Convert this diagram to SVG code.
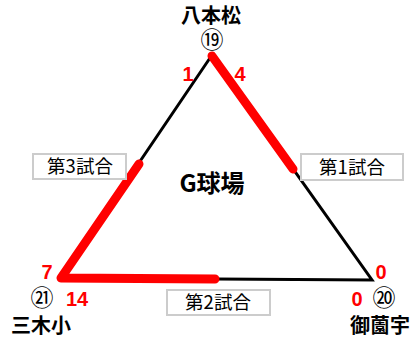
<svg xmlns="http://www.w3.org/2000/svg" width="414" height="340" viewBox="0 0 414 340">
<style>
.jp{font-family:"Noto Sans CJK JP","Liberation Sans",sans-serif}
.name{font-size:20px;font-weight:bold;fill:#000;text-anchor:middle}
.circ{font-size:23px;fill:#000;text-anchor:middle}
.score{font-family:"Liberation Sans",sans-serif;font-size:20px;font-weight:bold;fill:#ff0000;text-anchor:middle}
.box{fill:#fff;stroke:#cccccc;stroke-width:2}
.game{font-size:18.5px;fill:#000;text-anchor:middle}
.edge{stroke:#000;stroke-width:3;fill:none;stroke-linecap:round}
.win{stroke:#ff0000;stroke-width:9;fill:none;stroke-linecap:round;stroke-linejoin:round}
</style>
<rect width="414" height="340" fill="#fff"/>
<g id="connectors">
<path class="edge" d="M212,55 L61,278 L372,280 Z"/>
<path class="win" d="M212,56 L293,169"/>
<path class="win" d="M139,164 L61,278 L215,279"/>
</g>
<g id="hachihonmatsu">
<text class="jp name" x="211" y="23">八本松</text>
<text class="jp circ" x="212" y="48">⑲</text>
<text class="score" x="188" y="81">1</text>
<text class="score" x="240" y="81">4</text>
</g>
<g id="mikishou">
<text class="jp name" x="41" y="333">三木小</text>
<text class="jp circ" x="42" y="306">㉑</text>
<text class="score" x="47" y="279">7</text>
<text class="score" x="77" y="306">14</text>
</g>
<g id="misonou">
<text class="jp name" x="380" y="333">御薗宇</text>
<text class="jp circ" x="384" y="306">⑳</text>
<text class="score" x="381" y="279">0</text>
<text class="score" x="357" y="306">0</text>
</g>
<g id="game1">
<rect class="box" x="301" y="154" width="102" height="26"/>
<text class="jp game" x="352" y="174">第1試合</text>
</g>
<g id="game2">
<rect class="box" x="167" y="290" width="103" height="25"/>
<text class="jp game" x="218" y="309">第2試合</text>
</g>
<g id="game3">
<rect class="box" x="33" y="154" width="93" height="25"/>
<text class="jp game" x="80" y="173">第3試合</text>
</g>
<g id="center">
<text class="jp" x="212" y="192" font-size="24" font-weight="bold" text-anchor="middle">G球場</text>
</g>
</svg>
